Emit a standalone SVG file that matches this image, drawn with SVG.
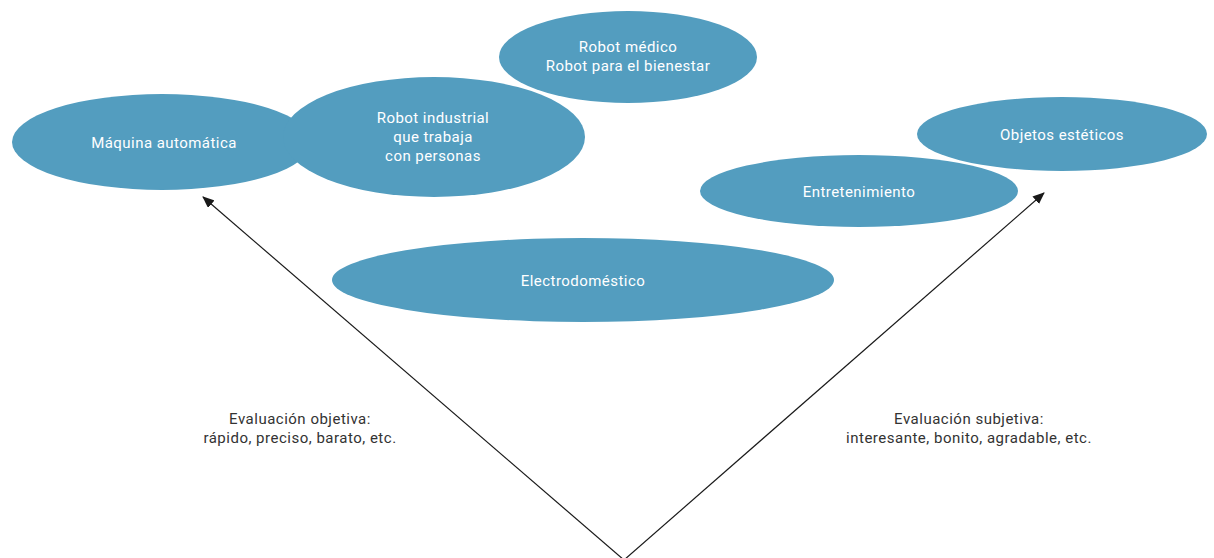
<svg xmlns="http://www.w3.org/2000/svg" width="1214" height="558" viewBox="0 0 1214 558">
  <style>
    .bubble { fill: #539dbf; }
    .lbl { font-family: Roboto, "Liberation Sans", sans-serif; font-size: 15px; letter-spacing: 0.45px; fill: #ffffff; text-anchor: middle; }
    .note { font-family: Roboto, "Liberation Sans", sans-serif; font-size: 15px; letter-spacing: 0.5px; fill: #333333; text-anchor: middle; }
    .axis { stroke: #1a1a1a; stroke-width: 1.2; fill: none; }
  </style>
  <defs>
    <marker id="head" viewBox="0 0 12 10" refX="11" refY="5" markerWidth="12" markerHeight="10" markerUnits="userSpaceOnUse" orient="auto">
      <path d="M0,0 L12,5 L0,10 Z" fill="#1a1a1a"/>
    </marker>
  </defs>
  <rect width="1214" height="558" fill="#ffffff"/>

  <g id="maquina">
    <ellipse class="bubble" cx="162" cy="142" rx="150" ry="48"/>
    <text class="lbl" x="164" y="148">Máquina automática</text>
  </g>
  <g id="robot-industrial">
    <ellipse class="bubble" cx="434" cy="137" rx="151" ry="60"/>
    <text class="lbl" x="433" y="123">Robot industrial</text>
    <text class="lbl" x="433" y="142">que trabaja</text>
    <text class="lbl" x="433" y="161">con personas</text>
  </g>
  <g id="robot-medico">
    <ellipse class="bubble" cx="628" cy="57" rx="129" ry="46"/>
    <text class="lbl" x="628" y="52">Robot médico</text>
    <text class="lbl" x="628" y="71">Robot para el bienestar</text>
  </g>
  <g id="objetos">
    <ellipse class="bubble" cx="1062" cy="134" rx="145" ry="37"/>
    <text class="lbl" x="1062" y="140">Objetos estéticos</text>
  </g>
  <g id="entretenimiento">
    <ellipse class="bubble" cx="859" cy="191" rx="159" ry="36"/>
    <text class="lbl" x="859" y="197">Entretenimiento</text>
  </g>
  <g id="electrodomestico">
    <ellipse class="bubble" cx="583" cy="280" rx="251" ry="42"/>
    <text class="lbl" x="583" y="286">Electrodoméstico</text>
  </g>

  <g id="connectors">
    <line class="axis" x1="624" y1="560" x2="203" y2="197" marker-end="url(#head)"/>
    <line class="axis" x1="624" y1="560" x2="1044" y2="193" marker-end="url(#head)"/>
  </g>

  <g id="labels">
    <text class="note" x="300" y="424">Evaluación objetiva:</text>
    <text class="note" x="300" y="443">rápido, preciso, barato, etc.</text>
    <text class="note" x="969" y="424">Evaluación subjetiva:</text>
    <text class="note" x="969" y="443">interesante, bonito, agradable, etc.</text>
  </g>
</svg>
